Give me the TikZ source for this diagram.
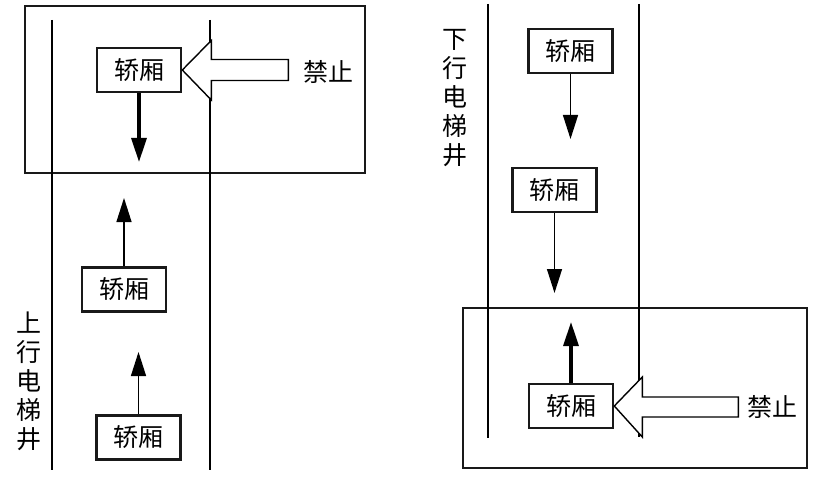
\documentclass[tikz,border=0pt]{standalone}
\usepackage{fontspec}
\newfontfamily\cjk{Noto Sans CJK SC}
\usetikzlibrary{arrows.meta}

\begin{document}
\begin{tikzpicture}[x=1pt, y=-1pt,
    font=\cjk\fontsize{25}{29}\selectfont,
    pointille/.style={line width=2.6pt, draw=black!90},
    cabine/.style={draw, pointille, minimum width=84pt, minimum height=44pt, inner sep=0pt},
    zone/.style={draw, pointille},
    mur/.style={line width=1.6pt},
    sens/.style={-{Triangle[length=24pt,width=15pt]}, line width=1.3pt},
    sensbloque/.style={-{Triangle[length=24pt,width=15pt]}, line width=3.2pt},
    interdit/.style={draw, fill=white, line width=1.4pt, line join=miter}]
        \useasboundingbox (0,0) rectangle (821,481);

        % Zones de blocage
        \draw[zone] (25,6) rectangle (365,173);
        \draw[zone] (463,308) rectangle (807,468);

        % Puits (gauche: montee, droite: descente)
        \draw[mur] (52,20) -- (52,470);
        \draw[mur] (210,20) -- (210,470);
        \draw[mur] (488,4) -- (488,438);
        \draw[mur] (639,4) -- (639,437);

        % Cabines
        \node[cabine] (lc1) at (139,70) {轿厢};
        \node[cabine] (lc2) at (124,289.5) {轿厢};
        \node[cabine] (lc3) at (138.5,437.5) {轿厢};
        \node[cabine] (rc1) at (570.5,51) {轿厢};
        \node[cabine] (rc2) at (554.5,190) {轿厢};
        \node[cabine] (rc3) at (571,406) {轿厢};

        % Noms des puits
        \node[align=center] (upname) at (29,381) {上\\行\\电\\梯\\井};
        \node[align=center] (downname) at (455,98) {下\\行\\电\\梯\\井};

        % Sens de marche
        \coordinate (lt1) at (139,162);
        \coordinate (lt2) at (124,198);
        \coordinate (lt3) at (138.5,352);
        \coordinate (rt1) at (570.5,139);
        \coordinate (rt2) at (554.5,293);
        \coordinate (rt3) at (571,322);
        \draw[sensbloque] (lc1.south) -- (lt1);
        \draw[sens] (lc2.north) -- (lt2);
        \draw[sens] (lc3.north) -- (lt3);
        \draw[sens] (rc1.south) -- (rt1);
        \draw[sens] (rc2.south) -- (rt2);
        \draw[sensbloque] (rc3.north) -- (rt3);

        % Fleches creuses "interdit"
        \draw[interdit] (lc1.east) -- ++(29,-29.5) -- ++(0,19) -- ++(77,0) -- ++(0,21) -- ++(-77,0) -- ++(0,19.5) -- cycle;
        \draw[interdit] (rc3.east) -- ++(28,-29) -- ++(0,20) -- ++(96,0) -- ++(0,20) -- ++(-96,0) -- ++(0,20) -- cycle;
        \node (lstop) at (328,72) {禁止};
        \node (rstop) at (772,407) {禁止};
\end{tikzpicture}
\end{document}
